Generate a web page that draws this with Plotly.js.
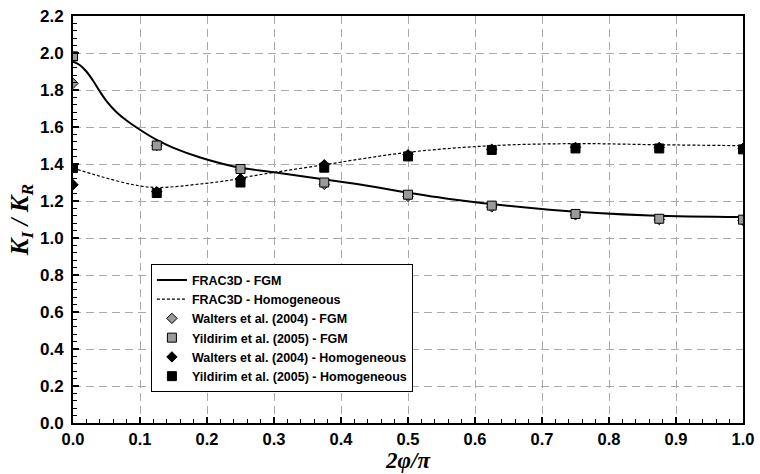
<!DOCTYPE html>
<html>
<head>
<meta charset="utf-8">
<script src="https://cdn.plot.ly/plotly-3.0.1.min.js"></script>
<style>html,body{margin:0;padding:0;background:#fff;}#chart{width:760px;height:474px;}</style>
</head>
<body>
<div id="chart"></div>
<script>
// FRAC3D curves
var fgmCurveX = [0.0, 0.01, 0.02, 0.03, 0.04, 0.05, 0.065, 0.08, 0.10, 0.125, 0.15, 0.19, 0.24, 0.30, 0.413, 0.562, 0.711, 0.861, 1.0];
var fgmCurveY = [1.953, 1.935, 1.900, 1.850, 1.792, 1.740, 1.680, 1.635, 1.585, 1.530, 1.487, 1.435, 1.387, 1.355, 1.297, 1.211, 1.153, 1.122, 1.114];
var homCurveX = [0.0, 0.041, 0.090, 0.125, 0.190, 0.239, 0.264, 0.375, 0.500, 0.625, 0.750, 0.875, 1.0];
var homCurveY = [1.378, 1.333, 1.288, 1.273, 1.292, 1.315, 1.333, 1.396, 1.463, 1.499, 1.510, 1.504, 1.499];

// Reference points
var ptsX = [0.0, 0.125, 0.25, 0.375, 0.5, 0.625, 0.75, 0.875, 1.0];
var waltersFgmY = [1.836, 1.50, 1.37, 1.29, 1.225, 1.168, 1.125, 1.100, 1.095];
var yildirimFgmY = [1.982, 1.500, 1.373, 1.300, 1.234, 1.175, 1.130, 1.104, 1.099];
var waltersHomY = [1.288, 1.25, 1.32, 1.396, 1.450, 1.480, 1.490, 1.490, 1.485];
var yildirimHomY = [1.378, 1.243, 1.300, 1.380, 1.441, 1.476, 1.484, 1.484, 1.479];

var seriesNames = [
  'FRAC3D - FGM',
  'FRAC3D - Homogeneous',
  'Walters et al. (2004) - FGM',
  'Yildirim et al. (2005) - FGM',
  'Walters et al. (2004) - Homogeneous',
  'Yildirim et al. (2005) - Homogeneous'
];

var xTickVals = [0, 0.1, 0.2, 0.3, 0.4, 0.5, 0.6, 0.7, 0.8, 0.9, 1.0];
var yTickVals = [0, 0.2, 0.4, 0.6, 0.8, 1.0, 1.2, 1.4, 1.6, 1.8, 2.0, 2.2];

function bold(s) { return '<b>' + s + '</b>'; }

var traces = [
  {x: fgmCurveX, y: fgmCurveY, name: bold(seriesNames[0]), mode: 'lines', legendrank: 1,
   line: {color: '#000', width: 2, shape: 'spline', smoothing: 1}},
  {x: homCurveX, y: homCurveY, name: bold(seriesNames[1]), mode: 'lines', legendrank: 2,
   line: {color: '#000', width: 1.2, dash: '3px,2px', shape: 'spline', smoothing: 1}},
  {x: ptsX, y: waltersFgmY, name: bold(seriesNames[2]), mode: 'markers', legendrank: 3,
   marker: {symbol: 'diamond', size: 8, color: '#9a9a9a', line: {color: '#000', width: 1}}},
  {x: ptsX, y: waltersHomY, name: bold(seriesNames[4]), mode: 'markers', legendrank: 5,
   marker: {symbol: 'diamond', size: 8, color: '#000', line: {color: '#000', width: 1}}},
  {x: ptsX, y: yildirimFgmY, name: bold(seriesNames[3]), mode: 'markers', legendrank: 4,
   marker: {symbol: 'square', size: 9, color: '#9a9a9a', line: {color: '#000', width: 1}}},
  {x: ptsX, y: yildirimHomY, name: bold(seriesNames[5]), mode: 'markers', legendrank: 6,
   marker: {symbol: 'square', size: 9, color: '#000', line: {color: '#000', width: 1}}}
];

var fontFam = '"Liberation Sans", Arial, Helvetica, sans-serif';
var serifFam = '"Liberation Serif", "Times New Roman", serif';

var layout = {
  width: 760, height: 474,
  margin: {l: 73, r: 17, t: 16, b: 51},
  paper_bgcolor: '#fff', plot_bgcolor: '#fff',
  showlegend: true,
  legend: {
    x: 0.1163, y: 0.39, xanchor: 'left', yanchor: 'top',
    bgcolor: '#fff', bordercolor: '#000', borderwidth: 1,
    font: {family: fontFam, size: 12.5, color: '#000'},
    traceorder: 'normal', itemwidth: 30
  },
  xaxis: {
    range: [0, 1], tickvals: xTickVals, ticktext: xTickVals.map(function (v) { return bold(v.toFixed(1)); }),
    showline: true, linecolor: '#000', linewidth: 2, mirror: true,
    ticks: 'inside', ticklen: 6, tickwidth: 1.2, tickcolor: '#000',
    minor: {dtick: 0.02, ticks: 'inside', ticklen: 4, tickwidth: 1, tickcolor: '#000', showgrid: false},
    showgrid: true, gridcolor: '#aaaaaa', griddash: '8px,5px', gridwidth: 1,
    zeroline: false, automargin: false,
    tickfont: {family: fontFam, size: 16.5, color: '#000'},
    title: {text: '<b><i>2φ/π</i></b>', font: {family: serifFam, size: 23, color: '#000'}, standoff: 3}
  },
  yaxis: {
    range: [0, 2.2], tickvals: yTickVals, ticktext: yTickVals.map(function (v) { return bold(v.toFixed(1)); }),
    showline: true, linecolor: '#000', linewidth: 2, mirror: true,
    ticks: 'inside', ticklen: 6, tickwidth: 1.2, tickcolor: '#000',
    minor: {dtick: 0.04, ticks: 'inside', ticklen: 4, tickwidth: 1, tickcolor: '#000', showgrid: false},
    showgrid: true, gridcolor: '#aaaaaa', griddash: '8px,5px', gridwidth: 1,
    zeroline: false, automargin: false,
    tickfont: {family: fontFam, size: 17, color: '#000'},
    ticklabelstandoff: 4,
    title: {text: '<b><i>K<sub>I</sub> / K<sub>R</sub></i></b>', font: {family: serifFam, size: 25, color: '#000'}, standoff: 4}
  }
};

Plotly.newPlot('chart', traces, layout, {displayModeBar: false, staticPlot: true});
</script>
</body>
</html>
